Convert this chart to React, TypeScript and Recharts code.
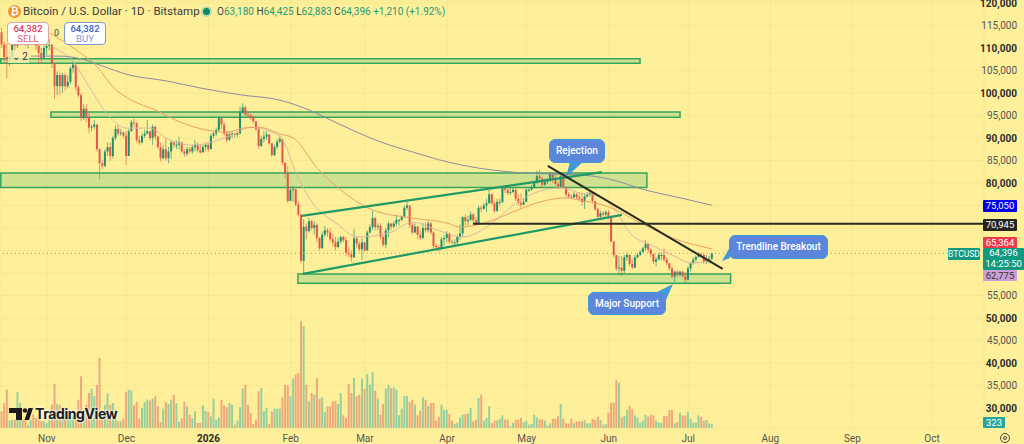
import React from 'react';
import { ComposedChart, Bar, Line, XAxis, YAxis, CartesianGrid, ReferenceArea, ReferenceLine } from 'recharts';

// all prices in thousands of USD; first candle is day -17 (Nov 1 = day 0)
const firstDay = -17;
const firstOpen = 113.5;

const closes = [
  110.8, 108, 107.5, 108, 111, 110.5, 113, 114, 113, 111,
  112, 113, 112.5, 110.5, 108.9, 107.8, 110, 110.5, 110.7, 106.5,
  101.5, 104, 101.5, 104, 101.5, 102.5, 105.5, 106.3, 101.3, 99.5,
  94.5, 96.5, 94.5, 92.3, 92.5, 93, 87.5, 84.4, 83.8, 87,
  88, 86, 90, 92, 91, 91.2, 90.5, 86, 91.5, 93.5,
  93.3, 89.5, 89, 90.5, 91, 91.5, 90, 92.5, 90.3, 88,
  85.5, 87.5, 85.5, 87, 89, 88.5, 88.5, 89, 87, 86.5,
  87.5, 87, 88, 88.5, 87.3, 86.8, 88, 88.5, 87.5, 90.5,
  91, 91.8, 94.4, 93, 91, 89.6, 90.8, 91, 90.7, 91,
  95.7, 96.8, 95.2, 95, 94.7, 93.7, 92, 88.2, 89.8, 90.3,
  90.8, 88.8, 86.2, 88, 89.2, 89.8, 84.5, 82.2, 76, 78.5,
  78.6, 75.2, 73, 62.7, 70.3, 69.3, 71.5, 70, 70.7, 67.8,
  65.5, 68.5, 69.5, 69, 67.5, 66.8, 65.8, 67, 68, 67.3,
  64.5, 64.2, 63.5, 67.7, 66.5, 65.3, 66.8, 65, 69, 70.2,
  72.2, 70.2, 70.5, 68, 66.3, 69.5, 71, 70.3, 71, 71.8,
  71.8, 72.5, 74.5, 75, 70.7, 69, 70.3, 68.5, 67.8, 70,
  69.5, 71, 69, 66, 65.7, 65.5, 67.5, 67.8, 68.8, 67,
  66.8, 66.8, 68, 68.8, 72.4, 71.5, 71.8, 73, 71.7, 71,
  74.5, 74.3, 75, 75.5, 77.5, 75.5, 73.8, 75.8, 75.8, 78.9,
  78.5, 77.8, 78, 78.5, 76.5, 75.6, 75.2, 75.8, 78.5, 78.5,
  79, 80, 81.5, 81, 79.6, 80.3, 80.5, 82, 81, 79.8,
  79.2, 81.5, 79, 77.5, 77, 76.8, 77.5, 76.8, 76.5, 75.8,
  77, 77.5, 77.8, 76, 74.2, 72.5, 73.3, 73, 73.5, 72.5,
  67, 64, 61, 61.2, 60.5, 63.5, 64, 62, 61.2, 63.5,
  64, 64.7, 65.5, 66.5, 65.2, 64.2, 62.5, 63, 64, 64,
  63, 62.2, 61, 59.2, 60.3, 59.6, 60.3, 59.3, 58.5, 61,
  62.2, 63, 63.6, 64.2, 64, 62.5, 62.8, 63.18, 64.396,
];

const highs = [
  114.5, 111.5, 111, 109.5, 112, 112, 113.5, 115.5, 114.5, 114,
  113, 114.5, 114, 113, 111, 110, 110.5, 111, 112, 111,
  106.5, 104.8, 104.5, 104.5, 104.5, 104, 106, 107, 106.5, 101.8,
  100, 97.5, 97.5, 95.5, 93, 94, 93, 87.7, 85, 87.5,
  89, 89, 90.5, 92.8, 93, 92, 91.5, 91.5, 92, 94,
  94.3, 93.5, 90.5, 91, 91.8, 94, 91.5, 93, 92.8, 90.5,
  89, 88.5, 90, 88, 89.5, 89, 89.5, 90.3, 89.2, 87.5,
  88, 88, 88.5, 89.5, 89, 88.5, 88.5, 89, 89, 91,
  91.5, 92.3, 94.8, 94.4, 93.5, 91.5, 91.5, 91.5, 91.2, 91.5,
  97, 97.7, 97.2, 95.8, 95.5, 95, 93.8, 92.3, 90.5, 91.5,
  91.5, 90.5, 89, 88.5, 89.8, 90.5, 89.7, 84.6, 83.8, 79,
  79.3, 78.8, 76, 73, 72, 71, 72.3, 71.8, 71.5, 71,
  68, 69.3, 70.5, 70, 70, 68.8, 68, 67.8, 68.3, 68.3,
  68, 65.8, 65, 69.8, 68.2, 67, 67.7, 67, 69.5, 70.8,
  73.8, 72.5, 71, 71, 68.5, 70, 71.5, 71, 71.5, 73,
  72, 72.8, 75, 75.8, 75, 71.3, 71, 70.5, 69.5, 71.2,
  71.3, 71.6, 71.3, 69.3, 66.5, 66.2, 68, 68.5, 69.3, 69,
  67.3, 67.5, 68.5, 70.8, 72.6, 73, 72.7, 73.7, 73.3, 72.5,
  75, 75, 75.6, 76.5, 78.5, 77.7, 76, 76.5, 76.5, 79,
  79.2, 78.8, 79, 79, 79.3, 77.5, 77.7, 76.5, 79, 79,
  79.5, 80.5, 82.7, 83, 81.5, 81, 81.2, 82.5, 82.3, 82,
  80.2, 82, 82, 79.2, 78, 77.5, 78, 77.8, 78, 77.8,
  77.6, 78, 78.3, 77.8, 76, 74.5, 73.8, 73.8, 74, 74,
  72.7, 67, 64, 63.8, 63.8, 64, 64.5, 64.2, 63.2, 64,
  64.5, 65, 65.8, 67.3, 66.5, 65.5, 64.4, 63.5, 64.5, 64.5,
  65.5, 63.5, 62.2, 61.5, 60.5, 60.7, 60.5, 60.5, 60.2, 61.5,
  62.5, 63.5, 63.9, 64.6, 64.5, 64.2, 64, 63.8, 64.425,
];

const lows = [
  110, 107, 103.3, 106, 107.5, 109, 110, 112.5, 112, 110.5,
  110, 111, 111.5, 109.5, 106.5, 106.4, 107.6, 108.5, 109.5, 105.5,
  98.7, 99.5, 99.5, 100, 100.5, 101, 102, 104.5, 100.5, 99,
  93.8, 94, 93.5, 91, 91.5, 92, 87, 80.8, 83, 83.5,
  86, 85, 85.5, 89.5, 90.5, 90.5, 90, 84, 86.5, 91.5,
  92.5, 89, 88.5, 88.8, 90, 90.8, 89.5, 88.5, 89.5, 87.5,
  84.8, 85.3, 85, 84.4, 85.3, 87.8, 87.5, 87.5, 86.8, 85.8,
  86, 86.5, 86.5, 87, 86.8, 86.5, 86.8, 87, 87, 87.5,
  90, 90.5, 91.5, 92, 90.5, 89, 89.3, 90, 90, 90.2,
  90.8, 95.5, 94.8, 94.5, 94, 93.2, 91.5, 87.6, 88, 89,
  89.5, 88.5, 85.8, 86, 87.5, 88.8, 84, 81, 75.5, 76.3,
  75.8, 74.8, 72.5, 62.3, 59.9, 67.5, 69, 69.5, 68.5, 66.8,
  65, 65.5, 68, 68, 67, 66, 65, 65.5, 66.5, 66.8,
  63.7, 63.5, 62.5, 63.3, 65.7, 64.8, 62.9, 64.8, 65, 68.8,
  69.5, 69.5, 69.5, 67.5, 65.8, 65.5, 68, 69.5, 70, 70.3,
  70.5, 71.5, 72.3, 74, 70, 68.5, 68.9, 67.5, 67.3, 67.5,
  69, 69, 68.5, 65.5, 65, 64.7, 65.2, 66, 66.8, 66.5,
  66.3, 66.3, 66.3, 67.3, 68, 70.5, 70.5, 71.5, 70.7, 70.5,
  70.8, 73.5, 74, 73.5, 75.4, 75, 73.3, 73.5, 75, 75.5,
  77.8, 77.3, 77.3, 77.8, 76, 75, 74.5, 75, 75.8, 78,
  78.2, 78.8, 79.8, 80, 79, 79.3, 79.8, 80.3, 80, 79.5,
  78.8, 79, 78.9, 76.8, 76.5, 76.3, 76.7, 76.3, 76, 75,
  74.2, 76.8, 77, 75.5, 73.8, 71.8, 72, 72.5, 72.5, 72,
  66.8, 63.5, 60.5, 59.5, 59.3, 60, 62.8, 61.5, 60.8, 61,
  63.2, 63.8, 64.5, 65, 64.5, 63.5, 62, 61.5, 62.8, 62.8,
  62.5, 61.8, 60.5, 58.8, 58, 59, 59.2, 59, 57.8, 58.3,
  60.3, 61.8, 62.5, 63.4, 63.5, 62, 62, 62.2, 62.883,
];

// volume pane, in rough units of 27 coins
const volumes = [
  50, 75, 115, 22, 25, 25, 108, 75, 25, 25,
  10, 25, 40, 30, 25, 20, 20, 15, 25, 70,
  133, 72, 68, 60, 60, 50, 45, 35, 40, 85,
  155, 55, 70, 105, 118, 95, 130, 210, 45, 70,
  103, 70, 75, 55, 20, 20, 28, 108, 115, 112,
  68, 78, 28, 60, 78, 85, 82, 88, 95, 65,
  18, 58, 78, 72, 85, 100, 75, 18, 28, 78,
  65, 40, 30, 50, 15, 15, 68, 52, 48, 35,
  88, 25, 32, 85, 68, 62, 75, 70, 10, 22,
  62, 118, 130, 70, 45, 12, 25, 110, 120, 50,
  60, 12, 50, 58, 58, 58, 92, 130, 128, 95,
  148, 160, 165, 320, 306, 130, 80, 105, 100, 150,
  88, 92, 48, 65, 65, 80, 82, 72, 105, 38,
  30, 133, 105, 150, 95, 100, 148, 118, 162, 130,
  168, 112, 88, 40, 72, 118, 130, 120, 122, 115,
  38,
  58, 95, 96, 78, 85, 70, 38, 52, 92, 85,
  66, 75, 75, 22, 34, 70, 55, 55, 42, 22,
  12, 16, 32, 40, 42, 44, 60, 20, 25, 90,
  100, 22, 30, 65, 15, 22, 22, 28, 38, 25,
  25, 6, 16, 24, 25, 30, 17, 22, 10, 12,
  40, 32, 26, 26, 22, 8, 14, 28, 28, 35,
  72, 28, 14, 14, 28, 14, 20, 20, 20, 24,
  14, 14, 28, 24, 34, 24, 10, 12, 46, 76,
  76, 144, 136, 32, 36, 54, 66, 56, 38, 32,
  16, 22, 40, 34, 40, 38, 22, 16, 16, 36,
  36, 54, 54, 14, 18, 46, 38, 38, 48, 28,
  16, 16, 38, 34, 22, 24, 14, 12,
];

// moving averages, read at a few days only and joined by the line
const maFastDays = [2, 10, 16, 23, 30, 39, 45, 55, 62, 70, 77, 85, 89, 94, 100, 110, 117, 129, 138, 147, 157, 168, 176, 185, 194, 201, 209, 214, 220, 228, 236, 243, 251];
const maFast = [110.2, 106.9, 101.3, 95.1, 92.2, 92.2, 90, 88.4, 89.1, 90.7, 92.4, 91.3, 89.6, 82.2, 75.8, 70.7, 68, 68.9, 71.3, 69.6, 68, 71.1, 75.1, 78, 78.9, 77.8, 76.9, 74.4, 68.9, 66.2, 64, 62.2, 62.775];

const maMidDays = [1, 11, 19, 25, 32, 41, 50, 60, 68, 74, 80, 88, 93, 102, 111, 123, 138, 151, 156, 165, 176, 185, 196, 201, 212, 224, 236, 251];
const maMid = [113.3, 109.6, 105.8, 101.3, 98.4, 96.2, 93.6, 91.8, 91.3, 92.2, 92.4, 90.9, 90, 83.3, 78.4, 74, 72.2, 71.1, 70.2, 71.1, 73.6, 75.6, 76.7, 76.2, 74.7, 71.1, 67.8, 65.364];

const maSlowDays = [-6, 5, 12, 20, 31, 45, 58, 73, 88, 99, 111, 126, 138, 151, 163, 176, 189, 201, 212, 226, 239, 251];
const maSlow = [108.2, 108.2, 107.7, 106.2, 104, 102.7, 101.1, 99.6, 98.4, 96.2, 92.9, 89.1, 86.9, 84.7, 83.3, 82.4, 82, 81.8, 80.9, 78.4, 76.7, 75.05];

const monthTicks = [0, 30, 61, 92, 120, 151, 181, 212, 242, 273, 304, 334];
const monthLabels = ['Nov', 'Dec', '2026', 'Feb', 'Mar', 'Apr', 'May', 'Jun', 'Jul', 'Aug', 'Sep', 'Oct'];
const priceTicks = [30, 35, 40, 45, 50, 55, 60, 65, 70, 75, 80, 85, 90, 95, 100, 105, 110, 115, 120];
// these sit behind the price tags in the reference
const hiddenPriceLabels = [60, 65, 70, 75];

// [day from, day to, price low, price high]
const zones = [
  [-17.4, 223.8, 106.6, 107.6],
  [1.5, 238.9, 94.6, 95.8],
  [-17.4, 226.4, 79, 82.2],
  [94.7, 258, 57.7, 59.8],
];
const greenLines = [
  [96.2, 72.7, 209.4, 82.4],
  [96.6, 59.8, 217, 72.9],
];
const blackLines = [
  [189, 83.8, 255, 60.9],
  [160.8, 70.945, 353.5, 70.945],
];

const rows = closes.map((close, i) => {
  const day = firstDay + i;
  const fastAt = maFastDays.indexOf(day);
  const midAt = maMidDays.indexOf(day);
  const slowAt = maSlowDays.indexOf(day);
  return {
    day,
    // 24h market, so a candle opens where the last one closed
    open: i === 0 ? firstOpen : closes[i - 1],
    close,
    high: highs[i],
    low: lows[i],
    volume: volumes[i],
    maFast: fastAt >= 0 ? maFast[fastAt] : null,
    maMid: midAt >= 0 ? maMid[midAt] : null,
    maSlow: slowAt >= 0 ? maSlow[slowAt] : null,
  };
});

const UP = '#1d8f6d';
const DOWN = '#e2574c';
const FONT = 'Roboto, "Open Sans", sans-serif';

function Candle(props: any) {
  const { x, y, width, height, payload } = props;
  const range = payload.high - payload.low;
  const px = Math.abs(height) / range;
  const top = Math.min(y, y + height);
  const bodyTop = top + (payload.high - Math.max(payload.open, payload.close)) * px;
  const bodyH = Math.max(Math.abs(payload.open - payload.close) * px, 1);
  const color = payload.close >= payload.open ? UP : DOWN;
  return (
    <g>
      <line x1={x + width / 2} x2={x + width / 2} y1={top} y2={top + Math.abs(height)} stroke={color} strokeWidth={0.8} strokeOpacity={0.8} />
      <rect x={x} y={bodyTop} width={width} height={bodyH} fill={color} />
    </g>
  );
}

function VolumeBar(props: any) {
  const { x, y, width, height, payload } = props;
  return <rect x={x} y={y} width={width} height={height} fill={payload.close >= payload.open ? '#97cf9f' : '#efa77e'} />;
}

function PriceTick({ y, payload }: any) {
  if (hiddenPriceLabels.includes(payload.value)) return null;
  const bold = payload.value % 10 === 0;
  return (
    <text x={1017} y={y + 3.5} textAnchor="end" fontSize={10} fontFamily={FONT} fontWeight={bold ? 700 : 400} fill={bold ? '#2b2b2b' : '#555'}>
      {payload.value},000
    </text>
  );
}

function MonthTick({ x, y, payload }: any) {
  const label = monthLabels[monthTicks.indexOf(payload.value)];
  const bold = label === '2026';
  return (
    <text x={x} y={y + 6} textAnchor="middle" fontSize={10} fontFamily={FONT} fontWeight={bold ? 700 : 400} fill={bold ? '#2b2b2b' : '#555'}>
      {label}
    </text>
  );
}

function Tag({ top, h, bg, color = '#fff', left = 983, w = 34, size = 9.5, children }: any) {
  return (
    <div style={{ position: 'absolute', left, top, width: w, height: h, background: bg, color, fontSize: size, lineHeight: h > 13 ? '10.5px' : `${h}px`, textAlign: 'center', fontFamily: FONT, borderRadius: 1, whiteSpace: 'nowrap' }}>
      {children}
    </div>
  );
}

function Callout({ left, top, w, h, children }: any) {
  return (
    <div style={{ position: 'absolute', left, top, width: w, height: h, boxSizing: 'border-box', background: '#5b86dc', border: '1px solid #3f9ad8', borderRadius: 6, color: '#fff', fontSize: 10, fontWeight: 500, lineHeight: `${h - 2}px`, textAlign: 'center', fontFamily: FONT, whiteSpace: 'nowrap' }}>
      {children}
    </div>
  );
}

export default function App() {
  return (
    <div style={{ position: 'absolute', left: 0, top: 0, width: 1024, height: 444, overflow: 'hidden', background: '#fef09a' }}>
      <ComposedChart width={1024} height={444} data={rows} margin={{ top: 0, right: 0, bottom: 0, left: 0 }}>
        <CartesianGrid stroke="#f6e88e" strokeWidth={1} xAxisId="time" yAxisId="price" />
        <XAxis xAxisId="time" dataKey="day" type="number" domain={[-17.7, 353.6]} allowDataOverflow ticks={monthTicks} interval={0} tick={MonthTick} tickLine={false} axisLine={false} height={16} />
        <XAxis xAxisId="timeVol" dataKey="day" type="number" domain={[-17.7, 353.6]} allowDataOverflow hide />
        <YAxis yAxisId="price" orientation="right" type="number" domain={[25.556, 120.667]} allowDataOverflow ticks={priceTicks} interval={0} tick={PriceTick} tickLine={false} axisLine={false} width={40} />
        <YAxis yAxisId="vol" type="number" domain={[0, 1284]} hide />
        <ReferenceLine xAxisId="time" yAxisId="price" y={64.396} stroke="#6fb58c" strokeDasharray="1 3" />
        {zones.map((z, i) => (
          <ReferenceArea key={i} xAxisId="time" yAxisId="price" x1={z[0]} x2={z[1]} y1={z[2]} y2={z[3]} fill="#7cc77c" fillOpacity={0.34} stroke="#35a45c" strokeWidth={1.5} />
        ))}
        <Bar xAxisId="timeVol" yAxisId="vol" dataKey="volume" barSize={2} shape={VolumeBar} isAnimationActive={false} />
        <Bar xAxisId="time" yAxisId="price" dataKey={(r: any) => [r.low, r.high]} barSize={2} shape={Candle} isAnimationActive={false} />
        <Line xAxisId="time" yAxisId="price" dataKey="maFast" type="monotone" connectNulls dot={false} stroke="#dcb7a4" strokeWidth={1} isAnimationActive={false} />
        <Line xAxisId="time" yAxisId="price" dataKey="maMid" type="monotone" connectNulls dot={false} stroke="#e9a06c" strokeWidth={1} isAnimationActive={false} />
        <Line xAxisId="time" yAxisId="price" dataKey="maSlow" type="monotone" connectNulls dot={false} stroke="#8f8aa6" strokeWidth={1} isAnimationActive={false} />
        {greenLines.map((s, i) => (
          <ReferenceLine key={i} xAxisId="time" yAxisId="price" segment={[{ x: s[0], y: s[1] }, { x: s[2], y: s[3] }]} stroke="#1f9a66" strokeWidth={2.2} />
        ))}
        {blackLines.map((s, i) => (
          <ReferenceLine key={i} xAxisId="time" yAxisId="price" segment={[{ x: s[0], y: s[1] }, { x: s[2], y: s[3] }]} stroke="#2a2a20" strokeWidth={2} />
        ))}
      </ComposedChart>

      {/* header */}
      <div style={{ position: 'absolute', left: 8, top: 5, width: 13, height: 13, borderRadius: 7, background: '#f0932c', color: '#fff', fontSize: 10, lineHeight: '13px', textAlign: 'center', fontFamily: FONT, fontWeight: 700 }}>₿</div>
      <div style={{ position: 'absolute', left: 23, top: 3, fontSize: 11.5, lineHeight: '17px', color: '#3a3a3a', fontFamily: FONT, whiteSpace: 'nowrap' }}>Bitcoin / U.S. Dollar · 1D · Bitstamp</div>
      <div style={{ position: 'absolute', left: 203, top: 8, width: 7, height: 7, borderRadius: 4, background: '#0e8a6a', boxShadow: '0 0 0 2px #bfdca4' }} />
      <div style={{ position: 'absolute', left: 217, top: 3, fontSize: 10, lineHeight: '17px', color: '#1f9a7a', fontFamily: FONT, whiteSpace: 'nowrap' }}>
        <b style={{ color: '#444', fontWeight: 400 }}>O</b>63,180 <b style={{ color: '#444', fontWeight: 400 }}>H</b>64,425 <b style={{ color: '#444', fontWeight: 400 }}>L</b>62,883 <b style={{ color: '#444', fontWeight: 400 }}>C</b>64,396 +1,210 (+1.92%)
      </div>

      {/* buy / sell */}
      <div style={{ position: 'absolute', left: 7, top: 22, width: 42, height: 23, boxSizing: 'border-box', background: '#fff', border: '1px solid #e2a3a3', borderRadius: 4, textAlign: 'center', fontFamily: FONT, fontSize: 9.5, lineHeight: '10px', paddingTop: 1, color: '#e06070' }}>
        <div style={{ fontWeight: 500, color: '#d8415a' }}>64,382</div>SELL
      </div>
      <div style={{ position: 'absolute', left: 54, top: 28, fontSize: 9, color: '#444', fontFamily: FONT }}>0</div>
      <div style={{ position: 'absolute', left: 64, top: 22, width: 42, height: 23, boxSizing: 'border-box', background: '#fff', border: '1px solid #8195cf', borderRadius: 4, textAlign: 'center', fontFamily: FONT, fontSize: 9.5, lineHeight: '10px', paddingTop: 1, color: '#7f97d8' }}>
        <div style={{ fontWeight: 500, color: '#3a62c8' }}>64,382</div>BUY
      </div>
      <div style={{ position: 'absolute', left: 8, top: 50, width: 21, height: 13, background: 'rgba(250,240,180,0.75)', fontSize: 10, lineHeight: '13px', color: '#333', fontFamily: FONT, textAlign: 'right', paddingRight: 1, boxSizing: 'border-box' }}>⌄ 2</div>

      {/* callouts */}
      <svg width={1024} height={444} style={{ position: 'absolute', left: 0, top: 0 }}>
        <polygon points="570,162 583,162 566,177" fill="#3f9ad8" />
        <polygon points="730,247 730,258 722,261" fill="#3f9ad8" />
        <polygon points="655,293 666,300 673,284" fill="#3f9ad8" />
        {/* logo */}
        <path d="M9 408 H22 V420 H16 V413 H9 Z" fill="#1b1b1b" />
        <circle cx={25} cy={410.5} r={2.3} fill="#1b1b1b" />
        <path d="M24.5 420 L28.5 408 H33 L29 420 Z" fill="#1b1b1b" />
        {/* gear */}
        <circle cx={1005} cy={438} r={4.5} fill="none" stroke="#444" strokeWidth={1} />
        <circle cx={1005} cy={438} r={1.5} fill="none" stroke="#444" strokeWidth={1} />
      </svg>
      <Callout left={549} top={139} w={56} h={24}>Rejection</Callout>
      <Callout left={729} top={235} w={99} h={24}>Trendline Breakout</Callout>
      <Callout left={588} top={292} w={78} h={23}>Major Support</Callout>

      <div style={{ position: 'absolute', left: 35, top: 404, fontSize: 14, lineHeight: '20px', fontWeight: 700, color: '#1b1b1b', fontFamily: '"Inter", "Open Sans", sans-serif', letterSpacing: -0.4, textShadow: '0 0 3px #fff, 0 0 3px #fff' }}>TradingView</div>

      {/* price tags */}
      <Tag top={200} h={12} bg="#0000ee">75,050</Tag>
      <Tag top={219} h={12} bg="#26261f">70,945</Tag>
      <Tag top={237} h={11} bg="#f03a48">65,364</Tag>
      <Tag top={248} h={12} left={948} w={32} size={8.5} bg="#0f9a80">BTCUSD</Tag>
      <Tag top={248} h={22} left={983} w={41} bg="#0f9a80">64,396<br />14:25:50</Tag>
      <Tag top={270} h={11} bg="#cb9fd8" color="#333">62,775</Tag>
      <Tag top={417} h={11} w={22} bg="#26a69a">323</Tag>
    </div>
  );
}
